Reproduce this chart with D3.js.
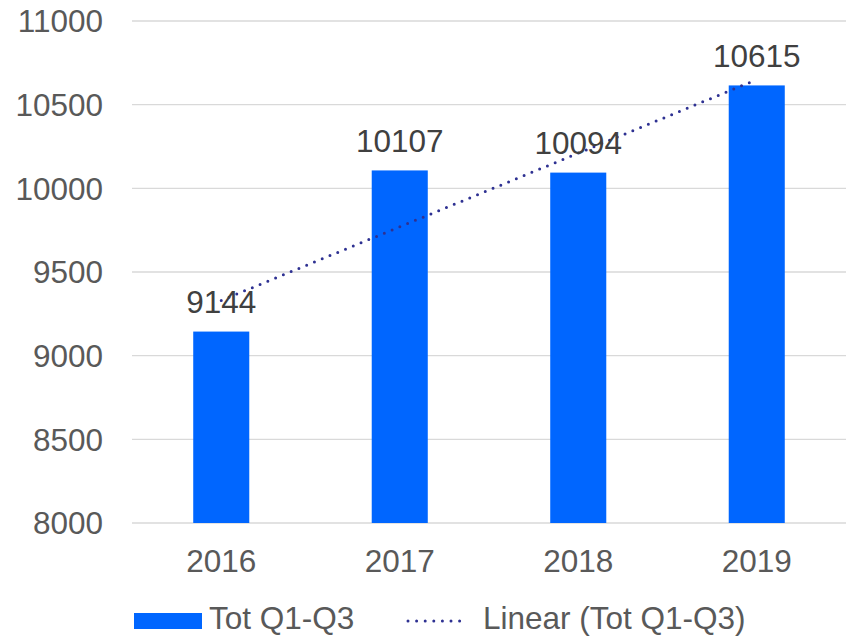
<!DOCTYPE html>
<html>
<head>
<meta charset="utf-8">
<script src="https://cdn.jsdelivr.net/npm/d3@7"></script>
<style>
  body { margin: 0; background: #fff; }
  text { font-family: "Liberation Sans", Arial, sans-serif; }
</style>
</head>
<body>
<svg width="851" height="638"></svg>
<script>
var years = ["2016", "2017", "2018", "2019"];
var totals = [9144, 10107, 10094, 10615];
var yTicks = [8000, 8500, 9000, 9500, 10000, 10500, 11000];
var seriesName = "Tot Q1-Q3";
var trendName = "Linear (Tot Q1-Q3)";

var svg = d3.select("svg");
var plotLeft = 132, plotRight = 846, plotTop = 21, plotBottom = 523;
var fontSize = 31.5;

var x = d3.scaleBand()
	.domain(years)
	.range([plotLeft, plotRight])
	.paddingInner(0.686)
	.paddingOuter(0.343);

var y = d3.scaleLinear()
	.domain([8000, 11000])
	.range([plotBottom, plotTop]);

// gridlines
svg.append("g")
	.selectAll("line")
	.data(yTicks)
	.enter().append("line")
	.attr("x1", plotLeft)
	.attr("x2", plotRight)
	.attr("y1", d => y(d))
	.attr("y2", d => y(d))
	.attr("stroke", "#d9d9d9")
	.attr("stroke-width", 1.3);

// y labels
svg.append("g")
	.selectAll("text")
	.data(yTicks)
	.enter().append("text")
	.attr("x", 103)
	.attr("y", d => y(d))
	.attr("dy", "0.36em")
	.attr("text-anchor", "end")
	.attr("font-size", fontSize)
	.attr("fill", "#595959")
	.text(d => d);

// bars
svg.append("g")
	.selectAll("rect")
	.data(totals)
	.enter().append("rect")
	.attr("x", (d, i) => x(years[i]))
	.attr("width", x.bandwidth())
	.attr("y", d => y(d))
	.attr("height", d => y(8000) - y(d))
	.attr("fill", "#0066ff");

// x labels
svg.append("g")
	.selectAll("text")
	.data(years)
	.enter().append("text")
	.attr("x", d => x(d) + x.bandwidth() / 2)
	.attr("y", 572)
	.attr("text-anchor", "middle")
	.attr("font-size", fontSize)
	.attr("fill", "#595959")
	.text(d => d);

// linear trend (least squares)
var n = totals.length;
var mx = d3.mean(totals, (d, i) => i);
var my = d3.mean(totals);
var slope = d3.sum(totals, (d, i) => (i - mx) * (d - my)) / d3.sum(totals, (d, i) => (i - mx) * (i - mx));
var icpt = my - slope * mx;

svg.append("line")
	.attr("x1", x(years[0]) + x.bandwidth() / 2)
	.attr("y1", y(icpt))
	.attr("x2", x(years[n - 1]) + x.bandwidth() / 2)
	.attr("y2", y(icpt + slope * (n - 1)))
	.attr("stroke", "#2e3192")
	.attr("stroke-width", 3)
	.attr("stroke-linecap", "round")
	.attr("stroke-dasharray", "0,8.4");

// data labels
svg.append("g")
	.selectAll("text")
	.data(totals)
	.enter().append("text")
	.attr("x", (d, i) => x(years[i]) + x.bandwidth() / 2)
	.attr("y", d => y(d) - 18.5)
	.attr("text-anchor", "middle")
	.attr("font-size", fontSize)
	.attr("fill", "#404040")
	.text(d => d);

// legend
var legend = svg.append("g");
legend.append("rect")
	.attr("x", 134).attr("y", 613)
	.attr("width", 68).attr("height", 16)
	.attr("fill", "#0066ff");
legend.append("text")
	.attr("x", 209).attr("y", 629)
	.attr("font-size", fontSize)
	.attr("fill", "#595959")
	.text(seriesName);
legend.append("line")
	.attr("x1", 408).attr("x2", 468)
	.attr("y1", 621).attr("y2", 621)
	.attr("stroke", "#2e3192")
	.attr("stroke-width", 3)
	.attr("stroke-linecap", "round")
	.attr("stroke-dasharray", "0,8.6");
legend.append("text")
	.attr("x", 483).attr("y", 629)
	.attr("font-size", fontSize)
	.attr("fill", "#595959")
	.text(trendName);
</script>
</body>
</html>
